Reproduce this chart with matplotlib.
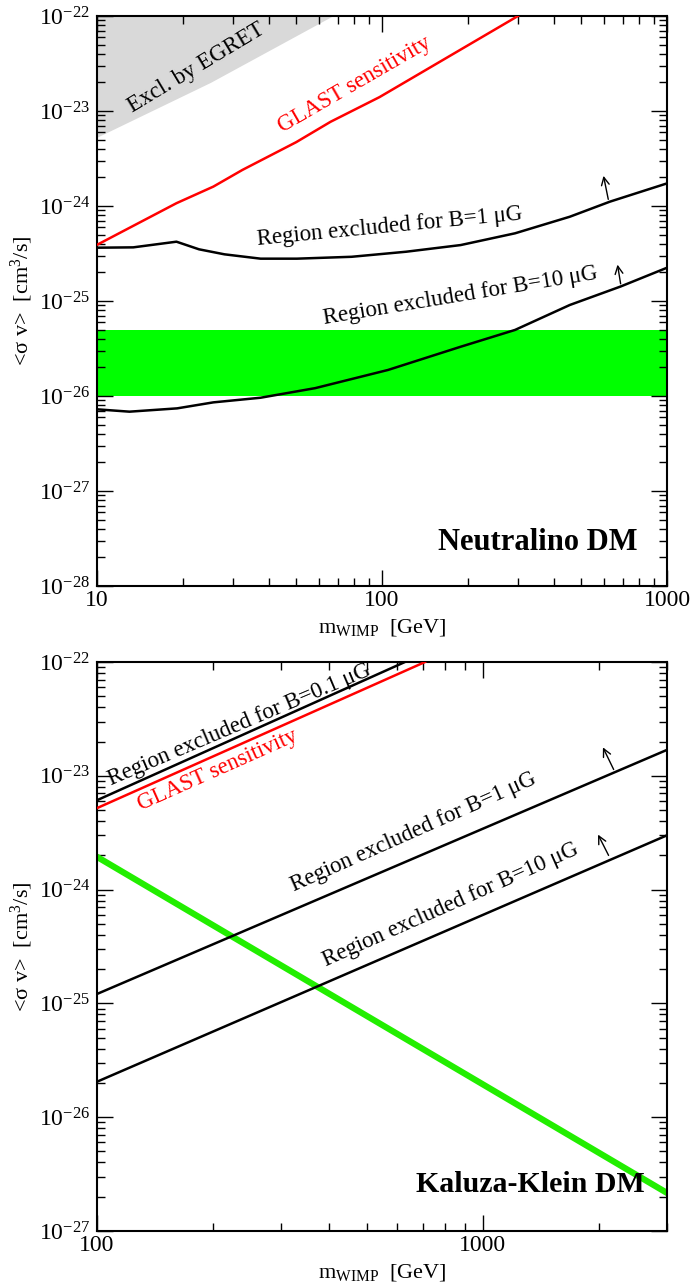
import numpy as np
import matplotlib
matplotlib.use('Agg')
import matplotlib.pyplot as plt
from matplotlib.ticker import LogLocator, NullFormatter, FuncFormatter

plt.rcParams['font.family'] = ['Liberation Serif', 'DejaVu Serif']
plt.rcParams['mathtext.fontset'] = 'custom'
plt.rcParams['mathtext.rm'] = 'Liberation Serif'
plt.rcParams['mathtext.it'] = 'Liberation Serif:italic'
plt.rcParams['mathtext.bf'] = 'Liberation Serif:bold'

# ---------------- Neutralino DM (top) ----------------
egret_m = [10, 25, 67, 1000]
egret_sv = [5.3e-24, 2.0e-23, 1.0e-22, 1.0e-22]

glast_m = [10, 19.0, 25.6, 32.4, 50, 66, 98, 300]
glast_sv = [3.9e-25, 1.07e-24, 1.6e-24, 2.4e-24, 4.7e-24, 7.7e-24, 1.4e-23, 1.0e-22]

b1_m = [10, 13.4, 19.0, 22.8, 28.0, 37.5, 50.3, 78.2, 121.4, 188.8, 293, 456, 630, 1000]
b1_sv = [3.64e-25, 3.67e-25, 4.21e-25, 3.50e-25, 3.10e-25, 2.79e-25, 2.79e-25,
         2.92e-25, 3.30e-25, 3.88e-25, 5.16e-25, 7.71e-25, 1.11e-24, 1.73e-24]

b10_m = [10, 13.0, 19.1, 25.6, 37.5, 58.3, 105, 188.8, 293, 456, 687, 1000]
b10_sv = [7.24e-27, 6.84e-27, 7.41e-27, 8.57e-27, 9.59e-27, 1.21e-26, 1.88e-26,
          3.30e-26, 4.96e-26, 9.08e-26, 1.42e-25, 2.24e-25]

band_lo, band_hi = 1e-26, 5e-26

# ---------------- Kaluza-Klein DM (bottom) ----------------
kk_b01_m = [100, 628]
kk_b01_sv = [6.1e-24, 1.0e-22]
kk_glast_m = [100, 708]
kk_glast_sv = [5.2e-24, 1.0e-22]
kk_b1_m = [100, 3000]
kk_b1_sv = [1.21e-25, 1.69e-23]
kk_b10_m = [100, 3000]
kk_b10_sv = [2.05e-26, 3.0e-24]
kk_relic_m = [100, 3000]
kk_relic_sv = [1.94e-24, 2.16e-27]

W, H = 691, 1287
fig = plt.figure(figsize=(W / 100, H / 100), dpi=100)


def px_axes(x0, y0, x1, y1):
    return fig.add_axes([x0 / W, 1 - y1 / H, (x1 - x0) / W, (y1 - y0) / H])


def style_axes(ax):
    ax.set_xscale('log')
    ax.set_yscale('log')
    for s in ax.spines.values():
        s.set_linewidth(1.5)
    ax.tick_params(which='both', direction='in', top=True, right=True, labelsize=17)
    ax.tick_params(which='major', length=11.5, width=1.0)
    ax.tick_params(which='minor', length=6, width=1.0)
    ax.tick_params(axis='y', pad=5)
    ax.tick_params(axis='x', pad=3)
    ax.yaxis.set_major_locator(LogLocator(base=10, numticks=20))
    ax.yaxis.set_minor_locator(LogLocator(base=10, subs=np.arange(2, 10), numticks=20))
    ax.yaxis.set_minor_formatter(NullFormatter())
    ax.yaxis.set_major_formatter(FuncFormatter(lambda v, p: r'$\mathrm{10^{%d}}$' % round(np.log10(v))))
    ax.xaxis.set_major_locator(LogLocator(base=10, numticks=20))
    ax.xaxis.set_minor_locator(LogLocator(base=10, subs=np.arange(2, 10), numticks=20))
    ax.xaxis.set_minor_formatter(NullFormatter())
    ax.xaxis.set_major_formatter(FuncFormatter(lambda v, p: '%d' % round(v)))
    ax.set_xlabel(r'$\mathrm{m_{WIMP}}$  [GeV]', fontsize=16, labelpad=4)
    ax.set_ylabel(r'<σ v>  [cm$^3$/s]', fontsize=16)
    ax.yaxis.set_label_coords(-0.108, 0.5)


arrow = dict(arrowstyle='->', color='black', lw=1.0, mutation_scale=14)

# top panel
ax1 = px_axes(97, 16, 667, 586)
style_axes(ax1)
ax1.fill_between(egret_m, egret_sv, 1e-22, color='#d9d9d9', lw=0, zorder=1)
ax1.axhspan(band_lo, band_hi, color='#00ff00', lw=0, zorder=1)
ax1.plot(glast_m, glast_sv, color='red', lw=1.8, zorder=3)
ax1.plot(b1_m, b1_sv, color='black', lw=1.8, zorder=3)
ax1.plot(b10_m, b10_sv, color='black', lw=1.8, zorder=3)
ax1.annotate('', xy=(596, 2.22e-24), xytext=(625, 1.10e-24), arrowprops=arrow)
ax1.annotate('', xy=(668, 2.58e-25), xytext=(690, 1.42e-25), arrowprops=arrow)
ax1.text(22.4, 2.84e-23, 'Excl. by EGRET', fontsize=16.5, rotation=31, ha='center', va='center')
ax1.text(80.3, 1.88e-23, 'GLAST sensitivity', fontsize=16.5, rotation=30, color='red', ha='center', va='center')
ax1.text(106.6, 6.0e-25, 'Region excluded for B=1 μG', fontsize=16.5, rotation=5.5, ha='center', va='center')
ax1.text(189, 1.13e-25, 'Region excluded for B=10 μG', fontsize=16.5, rotation=9.4, ha='center', va='center')
ax1.text(352, 2.9e-28, 'Neutralino DM', fontsize=22, fontweight='bold', ha='center', va='center')
ax1.set_xlim(10, 1000)
ax1.set_ylim(1e-28, 1e-22)

# bottom panel
ax2 = px_axes(97, 662, 667, 1231)
style_axes(ax2)
ax2.plot(kk_b01_m, kk_b01_sv, color='black', lw=1.8, zorder=3)
ax2.plot(kk_glast_m, kk_glast_sv, color='red', lw=1.8, zorder=3)
ax2.plot(kk_b1_m, kk_b1_sv, color='black', lw=1.8, zorder=3)
ax2.plot(kk_b10_m, kk_b10_sv, color='black', lw=1.8, zorder=3)
ax2.plot(kk_relic_m, kk_relic_sv, color='#22ee00', lw=4.5, zorder=2)
ax2.annotate('', xy=(2032, 1.87e-23), xytext=(2198, 1.08e-23), arrowprops=arrow)
ax2.annotate('', xy=(1973, 3.2e-24), xytext=(2133, 1.90e-24), arrowprops=arrow)
ax2.text(234, 2.79e-23, 'Region excluded for B=0.1 μG', fontsize=16.5, rotation=23, ha='center', va='center')
ax2.text(206, 1.12e-23, 'GLAST sensitivity', fontsize=16.5, rotation=24, color='red', ha='center', va='center')
ax2.text(659, 3.2e-24, 'Region excluded for B=1 μG', fontsize=16.5, rotation=24, ha='center', va='center')
ax2.text(826, 7.3e-25, 'Region excluded for B=10 μG', fontsize=16.5, rotation=24, ha='center', va='center')
ax2.text(1331, 2.54e-27, 'Kaluza-Klein DM', fontsize=21.5, fontweight='bold', ha='center', va='center')
ax2.set_xlim(100, 3000)
ax2.set_ylim(1e-27, 1e-22)

fig.savefig('out.png', dpi=100)
